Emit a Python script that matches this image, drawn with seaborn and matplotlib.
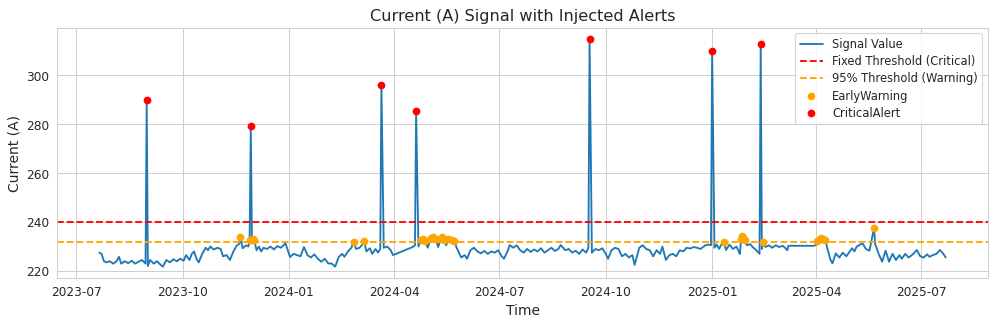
import numpy as np
import pandas as pd
import seaborn as sns
import matplotlib.pyplot as plt

sns.set_style("whitegrid")

critical_level = 240.0
warning_level = 231.9

# normal readings (roughly every few days)
base_dates = [
    "2023-07-21", "2023-07-23", "2023-07-25", "2023-07-27", "2023-07-30", "2023-08-02", "2023-08-05", "2023-08-07",
    "2023-08-09", "2023-08-12", "2023-08-15", "2023-08-18", "2023-08-21", "2023-08-24", "2023-08-27", "2023-08-30",
    "2023-09-01", "2023-09-03", "2023-09-06", "2023-09-09", "2023-09-12", "2023-09-14", "2023-09-17", "2023-09-20",
    "2023-09-23", "2023-09-26", "2023-09-29",
    "2023-10-02", "2023-10-04", "2023-10-07", "2023-10-09", "2023-10-11", "2023-10-13", "2023-10-15", "2023-10-18",
    "2023-10-21", "2023-10-23", "2023-10-25", "2023-10-28", "2023-10-31",
    "2023-11-03", "2023-11-05", "2023-11-08", "2023-11-11", "2023-11-14", "2023-11-17", "2023-11-19", "2023-11-22",
    "2023-11-25", "2023-11-27",
    "2023-12-04", "2023-12-06", "2023-12-08", "2023-12-10", "2023-12-13", "2023-12-16", "2023-12-19", "2023-12-22",
    "2023-12-25", "2023-12-29",
    "2024-01-02", "2024-01-05", "2024-01-08", "2024-01-11", "2024-01-14", "2024-01-17", "2024-01-20", "2024-01-23",
    "2024-01-26", "2024-01-29", "2024-02-01", "2024-02-04", "2024-02-07", "2024-02-10", "2024-02-13", "2024-02-16",
    "2024-02-18", "2024-02-21", "2024-02-24",
    "2024-02-28", "2024-03-02", "2024-03-04", "2024-03-08", "2024-03-11", "2024-03-13", "2024-03-16", "2024-03-18",
    "2024-03-20", "2024-03-23", "2024-03-26", "2024-03-29", "2024-03-31",
    "2024-04-17", "2024-04-19", "2024-04-22", "2024-04-30", "2024-05-09", "2024-05-16", "2024-05-25",
    "2024-05-27", "2024-05-29", "2024-06-01", "2024-06-03", "2024-06-06", "2024-06-09", "2024-06-12", "2024-06-15",
    "2024-06-18", "2024-06-21", "2024-06-24", "2024-06-27", "2024-06-30",
    "2024-07-03", "2024-07-05", "2024-07-08", "2024-07-10", "2024-07-13", "2024-07-16", "2024-07-19", "2024-07-22",
    "2024-07-25", "2024-07-28", "2024-07-31", "2024-08-03", "2024-08-06", "2024-08-09", "2024-08-12", "2024-08-15",
    "2024-08-18", "2024-08-21", "2024-08-23", "2024-08-27", "2024-08-30", "2024-09-02", "2024-09-05", "2024-09-08",
    "2024-09-11", "2024-09-14", "2024-09-16", "2024-09-19", "2024-09-22", "2024-09-25", "2024-09-28",
    "2024-10-01", "2024-10-03", "2024-10-06", "2024-10-09", "2024-10-12", "2024-10-15", "2024-10-18", "2024-10-21",
    "2024-10-24", "2024-10-26", "2024-10-30", "2024-11-02", "2024-11-05", "2024-11-08", "2024-11-11", "2024-11-14",
    "2024-11-17", "2024-11-19", "2024-11-22", "2024-11-25", "2024-11-28", "2024-12-01", "2024-12-04", "2024-12-07",
    "2024-12-10", "2024-12-13", "2024-12-16", "2024-12-19", "2024-12-22", "2024-12-26", "2024-12-29", "2024-12-31",
    "2025-01-03", "2025-01-05", "2025-01-07", "2025-01-09", "2025-01-13", "2025-01-16", "2025-01-19", "2025-01-22",
    "2025-01-25", "2025-01-31", "2025-02-03", "2025-02-05", "2025-02-08", "2025-02-11", "2025-02-13", "2025-02-16",
    "2025-02-19", "2025-02-22", "2025-02-25", "2025-02-28", "2025-03-03", "2025-03-05", "2025-03-07", "2025-03-08",
    "2025-03-30", "2025-04-01",
    "2025-04-11", "2025-04-12", "2025-04-13", "2025-04-15", "2025-04-18", "2025-04-21", "2025-04-24", "2025-04-27",
    "2025-05-02", "2025-05-04", "2025-05-06", "2025-05-11", "2025-05-14", "2025-05-17", "2025-05-18",
    "2025-05-22", "2025-05-25", "2025-05-28", "2025-05-31", "2025-06-03", "2025-06-06", "2025-06-09", "2025-06-12",
    "2025-06-14", "2025-06-17", "2025-06-20", "2025-06-24", "2025-06-27", "2025-06-30", "2025-07-03", "2025-07-06",
    "2025-07-08", "2025-07-11", "2025-07-14", "2025-07-17", "2025-07-20", "2025-07-22",
]
base_values = [
    227.5, 227.0, 224.0, 223.5, 224.0, 223.0, 224.0, 225.8,
    223.0, 224.0, 223.2, 224.2, 223.0, 223.8, 224.5, 223.0,
    222.0, 224.5, 223.0, 224.0, 222.5, 221.8, 224.5, 223.5,
    224.8, 224.0, 225.0,
    224.2, 226.5, 224.5, 227.0, 228.0, 225.0, 223.5, 227.0,
    229.5, 228.5, 230.0, 228.8, 229.5,
    229.0, 226.0, 226.5, 224.5, 228.0, 230.5, 231.0, 229.3,
    230.5, 230.0,
    228.5, 230.0, 228.0, 229.5, 229.0, 230.0, 228.8, 230.2,
    229.5, 231.3,
    225.7, 227.0, 226.5, 226.0, 229.8, 226.5, 225.5, 226.8,
    225.0, 223.8, 225.0, 223.1, 223.0, 221.8, 225.7, 227.0,
    225.8, 228.0, 229.5,
    229.0, 229.5, 230.5, 228.0, 229.3, 227.0, 229.0, 227.5,
    229.0, 229.5, 230.0, 228.5, 226.5,
    229.8, 230.5, 230.0, 229.5, 229.8, 230.5, 229.5,
    227.5, 225.5, 226.5, 225.0, 228.5, 229.5, 228.0, 227.2,
    228.2, 227.0, 228.0, 227.5, 228.5,
    226.0, 225.0, 228.0, 230.6, 229.5, 230.5, 228.5, 227.5,
    229.0, 227.8, 228.8, 228.0, 229.3, 227.5, 228.5, 229.5,
    228.2, 229.0, 230.6, 228.5, 229.0, 227.5, 228.3, 227.0,
    228.8, 227.5, 229.5, 227.5, 229.0, 228.5, 229.3,
    227.0, 225.0, 228.5, 229.5, 229.0, 226.0, 227.0, 225.5,
    226.5, 222.5, 229.5, 230.5, 229.0, 228.5, 226.0, 228.5,
    227.0, 230.0, 224.5, 226.5, 227.0, 226.0, 228.5, 228.0,
    229.5, 229.2, 229.8, 229.5, 229.0, 230.5, 230.8, 230.5,
    229.5, 230.8, 229.0, 230.9, 228.6, 230.8, 229.0, 230.0,
    226.9, 230.5, 231.0, 229.8, 228.6, 227.0, 229.0, 229.8,
    230.5, 229.5, 230.5, 229.8, 230.3, 229.5, 228.5, 230.3,
    230.3, 230.7,
    228.6, 227.0, 225.0, 223.1, 227.2, 225.5, 227.5, 226.0,
    229.3, 228.0, 230.0, 231.3, 229.0, 228.3, 230.5,
    231.0, 227.0, 223.8, 228.3, 223.8, 227.0, 224.5, 226.5,
    225.0, 227.0, 225.5, 227.0, 228.6, 226.0, 225.5, 226.8,
    225.8, 226.5, 227.0, 228.6, 227.0, 225.5,
]

# injected critical spikes
spike_dates = ["2023-08-31", "2023-11-29", "2024-03-21", "2024-04-20",
               "2024-09-17", "2025-01-01", "2025-02-12"]
spike_values = [290.1, 279.3, 296.1, 285.4, 314.9, 309.9, 312.8]

# readings above the 95% threshold
warn_dates = ["2023-11-20", "2023-11-28", "2023-11-30", "2023-12-01", "2023-12-02",
              "2024-02-26", "2024-03-06",
              "2024-04-24", "2024-04-26", "2024-04-28", "2024-05-03", "2024-05-05", "2024-05-07",
              "2024-05-12", "2024-05-14", "2024-05-18", "2024-05-21", "2024-05-23",
              "2025-01-11", "2025-01-26", "2025-01-27", "2025-01-28", "2025-01-29", "2025-02-14",
              "2025-04-02", "2025-04-04", "2025-04-05", "2025-04-07", "2025-04-09", "2025-05-21"]
warn_values = [233.8, 232.5, 232.8, 233.0, 232.5,
               232.0, 232.2,
               232.5, 233.0, 232.3, 233.5, 234.0, 233.0,
               233.8, 232.5, 233.2, 232.6, 232.3,
               232.0, 233.0, 234.3, 233.5, 232.8, 232.0,
               232.2, 233.0, 233.5, 233.2, 232.5, 237.6]

assert len(base_dates) == len(base_values)

signal = pd.DataFrame({
    "Time": pd.to_datetime(base_dates + spike_dates + warn_dates),
    "Current": base_values + spike_values + warn_values,
}).sort_values("Time")
crit = pd.DataFrame({"Time": pd.to_datetime(spike_dates), "Current": spike_values})
warn = pd.DataFrame({"Time": pd.to_datetime(warn_dates), "Current": warn_values})

fig, ax = plt.subplots(figsize=(12, 3.92), dpi=83)
sns.lineplot(data=signal, x="Time", y="Current", ax=ax, color="#1f77b4",
             linewidth=1.6, label="Signal Value", estimator=None)
ax.axhline(critical_level, color="red", linestyle="--", linewidth=1.6, label="Fixed Threshold (Critical)")
ax.axhline(warning_level, color="orange", linestyle="--", linewidth=1.6, label="95% Threshold (Warning)")
sns.scatterplot(data=warn, x="Time", y="Current", ax=ax, color="orange", s=45,
                linewidth=0, zorder=5, label="EarlyWarning")
sns.scatterplot(data=crit, x="Time", y="Current", ax=ax, color="red", s=45,
                linewidth=0, zorder=6, label="CriticalAlert")

ax.set_title("Current (A) Signal with Injected Alerts", fontsize=14)
ax.set_xlabel("Time", fontsize=12)
ax.set_ylabel("Current (A)", fontsize=12)
ax.tick_params(labelsize=10.5)
ax.legend(loc="upper right", fontsize=10, labelspacing=0.35)
fig.subplots_adjust(left=0.0572, right=0.992, top=0.9138, bottom=0.1446)
plt.savefig("out.png", dpi=83)
